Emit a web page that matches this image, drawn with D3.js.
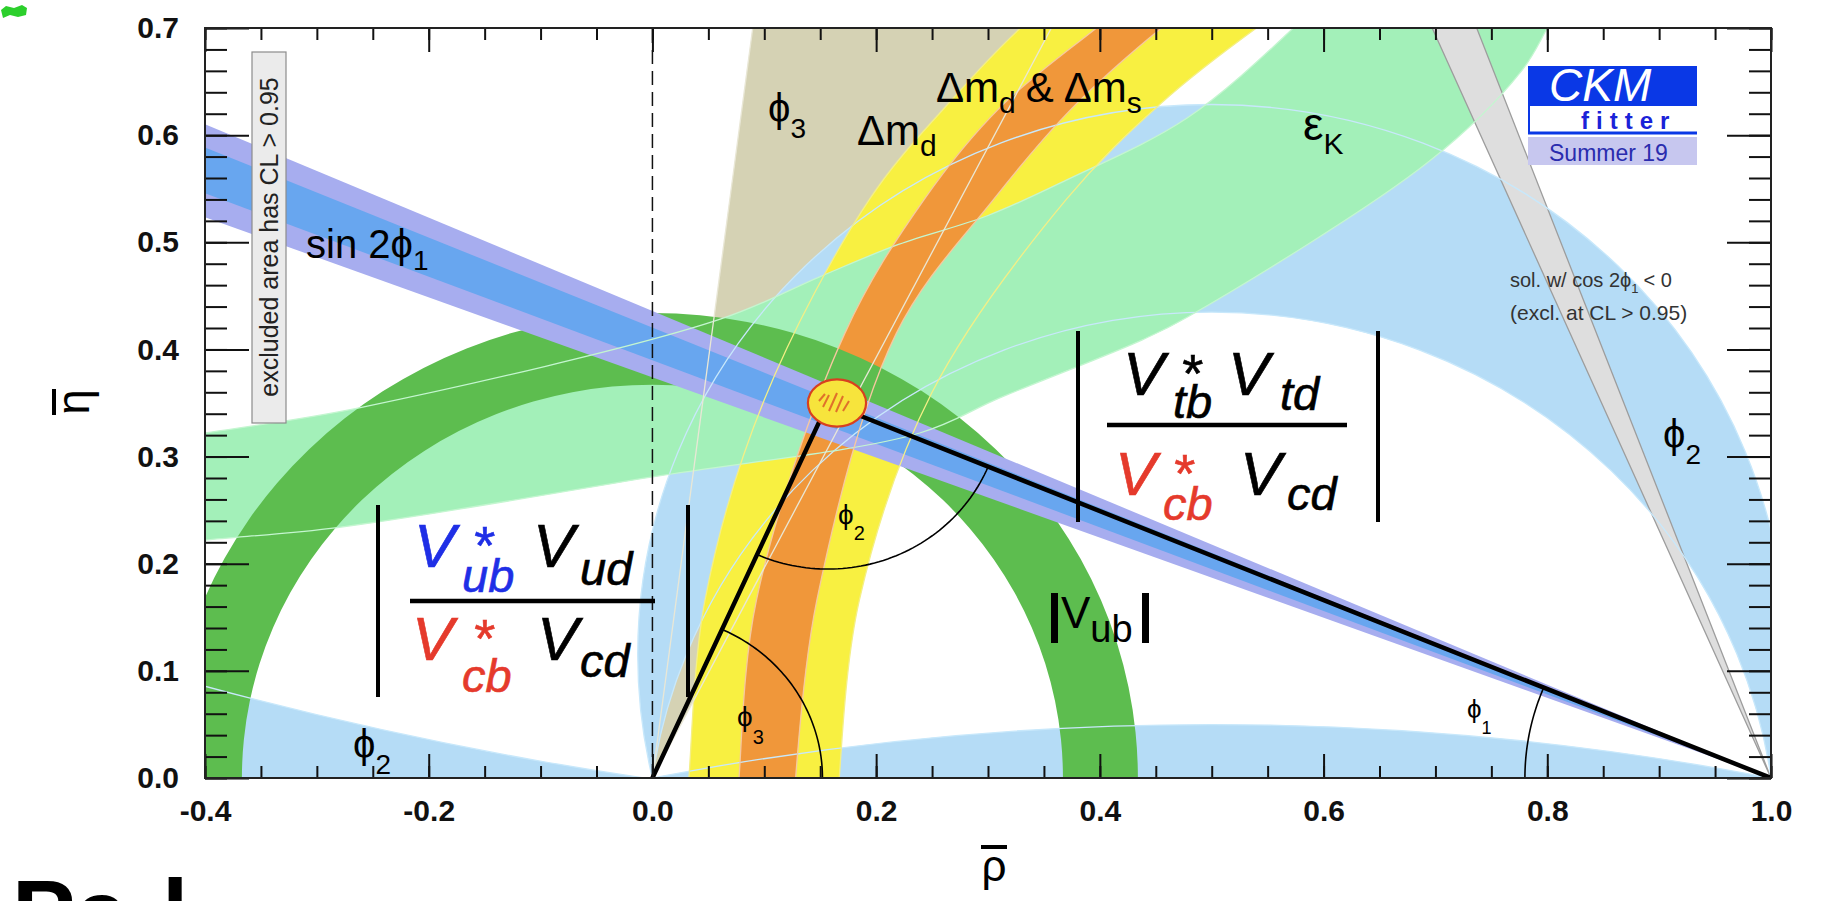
<!DOCTYPE html>
<html>
<head>
<meta charset="utf-8">
<script src="https://cdn.jsdelivr.net/npm/d3@7"></script>
<style>
  html, body { margin: 0; padding: 0; background: #fff; overflow: hidden; }
  svg { display: block; }
  text { font-family: "Liberation Sans", Arial, "DejaVu Sans", sans-serif; }
</style>
</head>
<body>
<svg id="chart" width="1839" height="901"></svg>
<script>
// ---------- data (rho-bar / eta-bar units, angles in degrees) ----------
const xMajorTicks = [-0.4, -0.2, 0.0, 0.2, 0.4, 0.6, 0.8, 1.0];
const xTickLabels = ["-0.4", "-0.2", "0.0", "0.2", "0.4", "0.6", "0.8", "1.0"];
const yMajorTicks = [0.0, 0.1, 0.2, 0.3, 0.4, 0.5, 0.6, 0.7];
const yTickLabels = ["0.0", "0.1", "0.2", "0.3", "0.4", "0.5", "0.6", "0.7"];

const apex = [0.157, 0.350];                 // fitted triangle apex
const fitSpot = [0.165, 0.350, 0.026, 0.022]; // centre + half widths of the CL spot

const phi3Range = [63, 82.7];                // gamma wedge from (0,0)
const phi2Ranges = [[0, 8.7], [77, 98], [168.6, 180]]; // alpha solutions
const sin2phi1Wide = [20.5, 23.55];          // beta lines from (1,0)
const sin2phi1Core = [21.3, 22.8];
const sin2phi1Alt = [66.6, 69.4];            // cos 2phi1 < 0 solution
const vubRadii = [0.367, 0.434];             // |Vub| ring round (0,0)

const dmdLeft  = [[0.031,-0.02],[0.0326,0.0],[0.047,0.166],[0.10,0.353],[0.194,0.54],[0.265,0.63],[0.329,0.70],[0.37,0.735]];
const dmdRight = [[0.166,-0.02],[0.167,0.0],[0.185,0.166],[0.25,0.36],[0.37,0.54],[0.455,0.63],[0.54,0.70],[0.59,0.735]];
const dmsLeft  = [[0.076,-0.02],[0.0774,0.0],[0.093,0.166],[0.172,0.415],[0.243,0.54],[0.31,0.625],[0.397,0.70],[0.44,0.735]];
const dmsRight = [[0.127,-0.02],[0.128,0.0],[0.147,0.166],[0.218,0.415],[0.305,0.54],[0.375,0.625],[0.455,0.70],[0.50,0.735]];

const epsUpper = [[-0.45,0.314],[-0.4,0.322],[-0.26,0.346],[0.06,0.428],[0.15,0.468],[0.22,0.498],[0.30,0.525],[0.37,0.558],[0.478,0.616],[0.573,0.70],[0.61,0.74]];
const epsLower = [[-0.45,0.216],[-0.4,0.222],[-0.28,0.234],[0.0,0.281],[0.239,0.322],[0.311,0.355],[0.438,0.409],[0.478,0.430],[0.695,0.576],[0.777,0.66],[0.80,0.70],[0.82,0.74]];

const angleArcRadii = { phi1: 0.22, phi2: 0.155, phi3: 0.152 };

// ---------- setup ----------
const svg = d3.select("#chart");
const x = d3.scaleLinear().domain([-0.4, 1.0]).range([205, 1771]);
const y = d3.scaleLinear().domain([0, 0.7]).range([778, 28]);
const rad = Math.PI / 180;

svg.append("defs").append("clipPath").attr("id", "plotClip")
  .append("rect").attr("x", x(-0.4)).attr("y", y(0.7))
  .attr("width", x(1.0) - x(-0.4)).attr("height", y(0) - y(0.7));

const plot = svg.append("g").attr("clip-path", "url(#plotClip)");

const straight = d3.line().x(d => x(d[0])).y(d => y(d[1]));
const smooth = d3.line().x(d => x(d[0])).y(d => y(d[1])).curve(d3.curveCatmullRom.alpha(0.5));

function bandPath(a, b) {
  return smooth(a) + smooth(b.slice().reverse()).replace(/^M/, "L") + "Z";
}
function ellipsePath(cx, cy, r) {
  const rx = x(cx + r) - x(cx), ry = y(cy) - y(cy + r);
  const px = x(cx), py = y(cy);
  return `M${px - rx},${py}a${rx},${ry} 0 1,0 ${2 * rx},0a${rx},${ry} 0 1,0 ${-2 * rx},0Z`;
}
// circle through (0,0),(1,0) on which the apex angle equals a
function alphaPath(a) {
  if (a <= 0) return `M${x(-0.6)},${y(0)}H${x(1.2)}V${y(0.9)}H${x(-0.6)}Z`;
  if (a >= 180) return "";
  const c = 0.5 / Math.tan(a * rad);
  return ellipsePath(0.5, c, Math.hypot(0.5, c));
}
function wedgeFrom(o, dirs) {
  return straight([o, [o[0] + 3 * Math.cos(dirs[0] * rad), o[1] + 3 * Math.sin(dirs[0] * rad)],
                      [o[0] + 3 * Math.cos(dirs[1] * rad), o[1] + 3 * Math.sin(dirs[1] * rad)]]) + "Z";
}
const fromOne = b => [180 - b[0], 180 - b[1]];

// ---------- constraint bands ----------
plot.append("path").attr("d", wedgeFrom([0, 0], phi3Range)).attr("fill", "#d5d2b4");
phi2Ranges.forEach(r => {
  plot.append("path").attr("d", alphaPath(r[0]) + alphaPath(r[1]))
    .attr("fill", "#b5dcf6").attr("fill-rule", "evenodd");
});
plot.append("path").attr("d", bandPath(dmdLeft, dmdRight)).attr("fill", "#f8f041");
plot.append("path").attr("d", bandPath(epsUpper, epsLower)).attr("fill", "#a3f0b9");
plot.append("path").attr("d", bandPath(dmsLeft, dmsRight)).attr("fill", "#f0973a");
plot.append("path").attr("d", ellipsePath(0, 0, vubRadii[1]) + ellipsePath(0, 0, vubRadii[0]))
  .attr("fill", "#5dbd4f").attr("fill-rule", "evenodd");
plot.append("path").attr("d", wedgeFrom([1, 0], fromOne(sin2phi1Wide))).attr("fill", "#a7adef");
plot.append("path").attr("d", wedgeFrom([1, 0], fromOne(sin2phi1Core))).attr("fill", "#68a6ef");
plot.append("path").attr("d", wedgeFrom([1, 0], fromOne(sin2phi1Alt)))
  .attr("fill", "#dedede").attr("stroke", "#9d9d9d").attr("stroke-width", 1.3);

// thin contour lines drawn over everything
const lines = plot.append("g").attr("fill", "none").attr("stroke-width", 1.3);
phi2Ranges.forEach(r => [r[0], r[1]].forEach(a => {
  if (a > 0 && a < 180) lines.append("path").attr("d", alphaPath(a)).attr("stroke", "#c8e8fb");
}));
lines.append("path").attr("d", smooth(epsUpper)).attr("stroke", "#c4f6d0");
lines.append("path").attr("d", smooth(epsLower)).attr("stroke", "#c4f6d0");
lines.append("path").attr("d", smooth(dmdLeft)).attr("stroke", "#f4ef86");
lines.append("path").attr("d", smooth(dmdRight)).attr("stroke", "#f4ef86");
lines.append("path").attr("d", smooth(dmsLeft)).attr("stroke", "#f6c8a0");
lines.append("path").attr("d", smooth(dmsRight)).attr("stroke", "#f6c8a0");
phi3Range.forEach(g => lines.append("path")
  .attr("d", straight([[0, 0], [3 * Math.cos(g * rad), 3 * Math.sin(g * rad)]])).attr("stroke", "#e9e7d6"));

plot.append("line").attr("x1", x(0)).attr("x2", x(0)).attr("y1", y(0)).attr("y2", y(0.7))
  .attr("stroke", "#111").attr("stroke-width", 1.5).attr("stroke-dasharray", "14,7");

// ---------- unitarity triangle ----------
function arcPts(c, r, a0, a1) {
  return d3.range(61).map(i => {
    const a = (a0 + (a1 - a0) * i / 60) * rad;
    return [c[0] + r * Math.cos(a), c[1] + r * Math.sin(a)];
  });
}
const gammaDir = Math.atan2(apex[1], apex[0]) / rad;
const toOrigin = Math.atan2(-apex[1], -apex[0]) / rad + 360;
const toOne = Math.atan2(-apex[1], 1 - apex[0]) / rad + 360;
const betaDir = 180 - Math.atan2(apex[1], 1 - apex[0]) / rad;
const arcs = plot.append("g").attr("fill", "none").attr("stroke", "#000").attr("stroke-width", 1.6);
arcs.append("path").attr("d", straight(arcPts([0, 0], angleArcRadii.phi3, 0, gammaDir)));
arcs.append("path").attr("d", straight(arcPts(apex, angleArcRadii.phi2, toOrigin, toOne)));
arcs.append("path").attr("d", straight(arcPts([1, 0], angleArcRadii.phi1, betaDir, 180)));

plot.append("path").attr("d", straight([[0, 0], apex, [1, 0]]))
  .attr("fill", "none").attr("stroke", "#000").attr("stroke-width", 4.5).attr("stroke-linejoin", "miter");

const spot = plot.append("g");
spot.append("ellipse").attr("cx", x(fitSpot[0])).attr("cy", y(fitSpot[1]))
  .attr("rx", x(fitSpot[0] + fitSpot[2]) - x(fitSpot[0])).attr("ry", y(fitSpot[1]) - y(fitSpot[1] + fitSpot[3]))
  .attr("fill", "#f7e43c").attr("stroke", "#d8401f").attr("stroke-width", 2.2);
[[-14, 4, -8, -8], [-8, 8, 0, -10], [-1, 9, 6, -7], [6, 8, 12, -2], [-18, -2, -12, -9]].forEach(h => {
  spot.append("line").attr("x1", x(fitSpot[0]) + h[0]).attr("y1", y(fitSpot[1]) + h[1])
    .attr("x2", x(fitSpot[0]) + h[2]).attr("y2", y(fitSpot[1]) + h[3])
    .attr("stroke", "#e0702a").attr("stroke-width", 2);
});

// ---------- labels ----------
function rich(x0, y0, segs) {
  const g = svg.append("g");
  let cx = x0;
  segs.forEach(s => {
    const t = g.append("text").attr("x", cx).attr("y", y0 + (s.dy || 0))
      .attr("font-size", s.size).attr("fill", s.fill || "#000").text(s.t);
    cx += t.node().getComputedTextLength() + (s.gap || 0);
  });
  return g;
}
const phi = "\u03D5";
rich(306, 258, [{ t: "sin 2" + phi, size: 40 }, { t: "1", size: 28, dy: 12 }]);
rich(768, 122, [{ t: phi, size: 40 }, { t: "3", size: 28, dy: 16 }]);
rich(857, 145, [{ t: "\u0394m", size: 42 }, { t: "d", size: 30, dy: 11 }]);
rich(936, 102, [{ t: "\u0394m", size: 42 }, { t: "d", size: 30, dy: 11, gap: 10 }, { t: "&", size: 42, gap: 10 },
  { t: "\u0394m", size: 42 }, { t: "s", size: 30, dy: 11 }]);
rich(1303, 140, [{ t: "\u03B5", size: 46 }, { t: "K", size: 30, dy: 14 }]);
rich(1663, 448, [{ t: phi, size: 40 }, { t: "2", size: 28, dy: 16 }]);
rich(353, 758, [{ t: phi, size: 40 }, { t: "2", size: 28, dy: 16 }]);
rich(737, 726, [{ t: phi, size: 28 }, { t: "3", size: 20, dy: 18 }]);
rich(838, 524, [{ t: phi, size: 28 }, { t: "2", size: 20, dy: 16 }]);
rich(1467, 718, [{ t: phi, size: 26 }, { t: "1", size: 18, dy: 16 }]);

svg.append("rect").attr("x", 1051).attr("y", 593).attr("width", 7).attr("height", 50).attr("fill", "#000");
svg.append("rect").attr("x", 1142).attr("y", 593).attr("width", 7).attr("height", 50).attr("fill", "#000");
rich(1061, 628, [{ t: "V", size: 44 }, { t: "ub", size: 38, dy: 14 }]);

// CKM ratios
const fracFont = "'DejaVu Sans', sans-serif";
function fraction(bars, barTop, barBot, lineY, lineX, num, den) {
  const g = svg.append("g");
  bars.forEach(bx => g.append("line").attr("x1", bx).attr("x2", bx).attr("y1", barTop).attr("y2", barBot)
    .attr("stroke", "#000").attr("stroke-width", 4));
  g.append("line").attr("x1", lineX[0]).attr("x2", lineX[1]).attr("y1", lineY).attr("y2", lineY)
    .attr("stroke", "#000").attr("stroke-width", 4.5);
  [num, den].forEach(p => p.forEach(s => {
    g.append("text").attr("x", s.x).attr("y", s.y).attr("font-size", s.size)
      .attr("font-family", fracFont).attr("font-style", "italic").attr("fill", s.fill)
      .attr("stroke", s.fill).attr("stroke-width", 0.6).text(s.t);
  }));
}
const blue = "#1f2fe6", red = "#e53a2c";
fraction([378, 688], 505, 697, 601, [410, 655],
  [{ t: "V", x: 414, y: 567, size: 62, fill: blue }, { t: "*", x: 472, y: 564, size: 54, fill: blue },
   { t: "ub", x: 462, y: 592, size: 47, fill: blue }, { t: "V", x: 533, y: 567, size: 62, fill: "#000" },
   { t: "ud", x: 580, y: 585, size: 47, fill: "#000" }],
  [{ t: "V", x: 412, y: 660, size: 62, fill: red }, { t: "*", x: 472, y: 657, size: 54, fill: red },
   { t: "cb", x: 462, y: 692, size: 47, fill: red }, { t: "V", x: 537, y: 660, size: 62, fill: "#000" },
   { t: "cd", x: 580, y: 677, size: 47, fill: "#000" }]);
fraction([1078, 1378], 331, 522, 425, [1107, 1347],
  [{ t: "V", x: 1123, y: 395, size: 62, fill: "#000" }, { t: "*", x: 1180, y: 392, size: 54, fill: "#000" },
   { t: "tb", x: 1173, y: 418, size: 47, fill: "#000" }, { t: "V", x: 1228, y: 395, size: 62, fill: "#000" },
   { t: "td", x: 1280, y: 410, size: 47, fill: "#000" }],
  [{ t: "V", x: 1115, y: 495, size: 62, fill: red }, { t: "*", x: 1172, y: 492, size: 54, fill: red },
   { t: "cb", x: 1163, y: 520, size: 47, fill: red }, { t: "V", x: 1240, y: 495, size: 62, fill: "#000" },
   { t: "cd", x: 1287, y: 510, size: 47, fill: "#000" }]);

// excluded-area note
svg.append("rect").attr("x", 252).attr("y", 52).attr("width", 34).attr("height", 371)
  .attr("fill", "#ebebeb").attr("stroke", "#8c8c8c").attr("stroke-width", 1.2);
svg.append("text").attr("transform", "translate(278,237) rotate(-90)").attr("text-anchor", "middle")
  .attr("font-size", 25).attr("fill", "#222").text("excluded area has CL > 0.95");

// cos 2phi1 note
rich(1510, 287, [{ t: "sol. w/ cos 2" + phi, size: 20, fill: "#333" }, { t: "1", size: 13, dy: 6, fill: "#333", gap: 5 },
  { t: "< 0", size: 20, fill: "#333" }]);
svg.append("text").attr("x", 1510).attr("y", 320).attr("font-size", 21).attr("fill", "#333").text("(excl. at CL > 0.95)");

// CKMfitter logo
const logo = svg.append("g");
logo.append("rect").attr("x", 1528).attr("y", 66).attr("width", 169).attr("height", 40).attr("fill", "#0a38e6");
logo.append("text").attr("x", 1549).attr("y", 101).attr("font-size", 46).attr("font-style", "italic")
  .attr("fill", "#fff").text("CKM");
logo.append("line").attr("x1", 1529).attr("x2", 1529).attr("y1", 106).attr("y2", 134).attr("stroke", "#0a38e6").attr("stroke-width", 2);
logo.append("line").attr("x1", 1528).attr("x2", 1697).attr("y1", 133).attr("y2", 133).attr("stroke", "#0a38e6").attr("stroke-width", 3);
logo.append("text").attr("x", 1581).attr("y", 129).attr("font-size", 24).attr("font-weight", "bold")
  .attr("letter-spacing", 7).attr("fill", "#1a22d8").text("fitter");
logo.append("rect").attr("x", 1528).attr("y", 137).attr("width", 169).attr("height", 28).attr("fill", "#c7c7ef");
logo.append("text").attr("x", 1549).attr("y", 161).attr("font-size", 23).attr("fill", "#2a2cae").text("Summer 19");

// ---------- axes ----------
function axis(gen, tx, ty) {
  const g = svg.append("g").attr("transform", `translate(${tx},${ty})`).call(gen);
  g.select(".domain").remove();
  g.selectAll(".tick line").attr("stroke", "#111").attr("stroke-width", 2);
  g.selectAll(".tick text").attr("font-size", 30).attr("font-weight", "bold")
    .attr("font-family", "'Liberation Sans', Arial, sans-serif").attr("fill", "#111");
  return g;
}
const xMinor = d3.range(0, 29).map(i => -0.4 + i * 0.05);
const yMinor = d3.range(0, 36).map(i => i * 0.02);
axis(d3.axisBottom(x).tickValues(xMinor).tickSize(-12).tickFormat(""), 0, y(0));
axis(d3.axisTop(x).tickValues(xMinor).tickSize(-12).tickFormat(""), 0, y(0.7));
axis(d3.axisBottom(x).tickValues(xMajorTicks).tickSize(-24).tickPadding(22)
  .tickFormat((d, i) => xTickLabels[i]), 0, y(0));
axis(d3.axisTop(x).tickValues(xMajorTicks).tickSize(-24).tickFormat(""), 0, y(0.7));
axis(d3.axisLeft(y).tickValues(yMinor).tickSize(-22).tickFormat(""), x(-0.4), 0);
axis(d3.axisRight(y).tickValues(yMinor).tickSize(-22).tickFormat(""), x(1.0), 0);
axis(d3.axisLeft(y).tickValues(yMajorTicks).tickSize(-44).tickPadding(26)
  .tickFormat((d, i) => yTickLabels[i]), x(-0.4), 0);
axis(d3.axisRight(y).tickValues(yMajorTicks).tickSize(-44).tickFormat(""), x(1.0), 0);

svg.append("rect").attr("x", x(-0.4)).attr("y", y(0.7)).attr("width", x(1.0) - x(-0.4))
  .attr("height", y(0) - y(0.7)).attr("fill", "none").attr("stroke", "#222").attr("stroke-width", 2);

// axis titles
svg.append("text").attr("x", 994).attr("y", 881).attr("text-anchor", "middle").attr("font-size", 44).text("\u03C1");
svg.append("line").attr("x1", 981).attr("x2", 1007).attr("y1", 847).attr("y2", 847).attr("stroke", "#000").attr("stroke-width", 4);
const eta = svg.append("g").attr("transform", "translate(89,402) rotate(-90)");
eta.append("text").attr("text-anchor", "middle").attr("font-size", 46).text("\u03B7");
eta.append("line").attr("x1", -13).attr("x2", 13).attr("y1", -35).attr("y2", -35).attr("stroke", "#000").attr("stroke-width", 4);

// slide remnants
svg.append("path").attr("d", "M1,10L6,6L14,8L22,5L27,8L26,15L18,17L10,15L3,18Z").attr("fill", "#2ccf2c");
svg.append("text").attr("x", 12).attr("y", 946).attr("font-size", 95).attr("font-weight", "bold").attr("fill", "#000").text("Pa");
svg.append("text").attr("x", 162).attr("y", 946).attr("font-size", 95).attr("font-weight", "bold").attr("fill", "#000").text("l");
</script>
</body>
</html>
